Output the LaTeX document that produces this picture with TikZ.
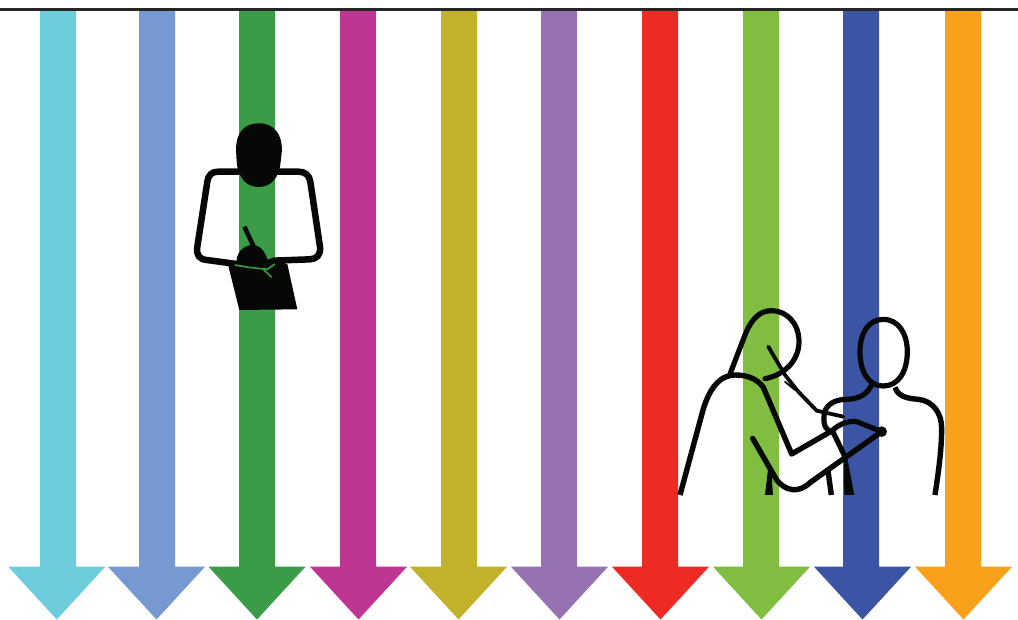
\documentclass[tikz,border=0pt]{standalone}
\definecolor{acyan}{HTML}{6DCDDC}
\definecolor{ablue}{HTML}{7599D0}
\definecolor{agreen}{HTML}{3B9C48}
\definecolor{amag}{HTML}{BE3694}
\definecolor{aolive}{HTML}{C2B22B}
\definecolor{apurple}{HTML}{9672B0}
\definecolor{ared}{HTML}{EE2A24}
\definecolor{alime}{HTML}{80BD41}
\definecolor{anavy}{HTML}{3B54A4}
\definecolor{aorange}{HTML}{F9A11B}
\definecolor{ink}{HTML}{060806}
\tikzset{
  pen/.style={draw=ink,line width=#1,line cap=round,line join=round},
  pen/.default=5pt,
  zoomA/.style={shift={(180,110)},x=0.3333pt,y=-0.3333pt},
  zoomB/.style={shift={(670,300)},x=0.3333pt,y=-0.3333pt}
}
\begin{document}
\begin{tikzpicture}[x=1pt,y=-1pt]
\useasboundingbox (0,0) rectangle (1018,619);
\fill[white] (0,0) rectangle (1018,619);
\foreach \c/\h/\col in {58/56.8/acyan,157/156.5/ablue,257/257/agreen,358/358.5/amag,459/458.5/aolive,559/559.5/apurple,660/660.5/ared,761/761.5/alime,861/862.5/anavy,963/963.5/aorange}{
  \fill[\col] (\c-18,9) -- (\c+18,9) -- (\c+18,566.5) -- (\h+48.7,566.5) -- (\h,619.5) -- (\h-48.7,566.5) -- (\c-18,566.5) -- cycle;
}
\draw[color=black!85,line width=3pt] (0,9) -- (1018,9);
% writing figure
\begin{scope}[zoomA]
  \fill[ink] (145,468) -- (178,600) -- (352,598) -- (322,462) -- (270,447) -- cycle;
  \draw[pen=6.5pt] (175,185) -- (115,185) .. controls (95,185) and (85,195) .. (82,215) -- (52,410) .. controls (48,435) and (58,448) .. (80,450) -- (170,462);
  \draw[pen=6.5pt] (295,185) -- (355,185) .. controls (375,185) and (388,195) .. (391,215) -- (420,410) .. controls (423,435) and (410,447) .. (390,448) -- (280,452);
  \fill[ink] (236,40) .. controls (285,40) and (306,75) .. (306,120) -- (302,155) .. controls (298,205) and (272,231) .. (236,231) .. controls (200,231) and (174,205) .. (170,155) -- (168,120) .. controls (168,75) and (187,40) .. (236,40) -- cycle;
  \draw[pen=4.5pt,line cap=butt] (193,350) -- (222,412);
  \fill[ink] (170,465) .. controls (165,430) and (190,405) .. (218,405) .. controls (245,405) and (262,435) .. (266,465) .. controls (235,478) and (195,478) .. (170,465) -- cycle;
  \draw[agreen,line width=1.6pt] (165,465) -- (205,472) -- (262,478) -- (285,462);
  \draw[agreen,line width=1.6pt] (250,478) -- (275,502);
\end{scope}
% examination figure
\begin{scope}[zoomB]
  \draw[pen=5.2pt] (180,222) -- (225,105) .. controls (245,55) and (270,32) .. (305,32) .. controls (350,32) and (387,70) .. (387,125) .. controls (387,180) and (345,225) .. (285,236);
  \draw[pen=5.4pt,line cap=butt] (30,585) -- (95,345) .. controls (115,265) and (150,225) .. (195,225) .. controls (230,225) and (260,235) .. (280,262) -- (365,462) -- (485,393);
  \draw[pen=3.8pt] (295,140) -- (345,225) -- (385,275) -- (440,332) -- (520,350);
  \draw[pen=1.8pt] (345,245) -- (375,270);
  \draw[pen=5.2pt] (485,393) .. controls (510,370) and (535,362) .. (560,365) -- (635,395);
  \draw[pen=5.4pt] (248,415) -- (320,540) .. controls (345,572) and (385,582) .. (420,548) -- (635,395);
  \fill[ink] (635,395) circle (16);
  \draw[pen=5.2pt] (640,58) .. controls (685,58) and (712,100) .. (712,155) .. controls (712,215) and (685,258) .. (640,258) .. controls (595,258) and (570,215) .. (570,155) .. controls (570,100) and (595,58) .. (640,58) -- cycle;
  \draw[pen=5.2pt] (605,255) .. controls (590,285) and (565,297) .. (530,298) .. controls (490,298) and (462,318) .. (462,350) .. controls (460,380) and (470,392) .. (490,398) -- (525,470);
  \draw[pen=5.4pt,line cap=butt] (675,262) .. controls (685,290) and (710,295) .. (745,298) .. controls (790,303) and (815,340) .. (815,385) .. controls (815,450) and (805,520) .. (795,585);
  \fill[ink] (522,468) -- (530,465) -- (553,585) -- (523,585) -- cycle;
  \draw[pen=5.4pt,line cap=butt] (473,505) -- (484,585);
  \fill[ink] (295,500) -- (304,510) -- (309,585) -- (285,585) -- cycle;
\end{scope}
\end{tikzpicture}
\end{document}
